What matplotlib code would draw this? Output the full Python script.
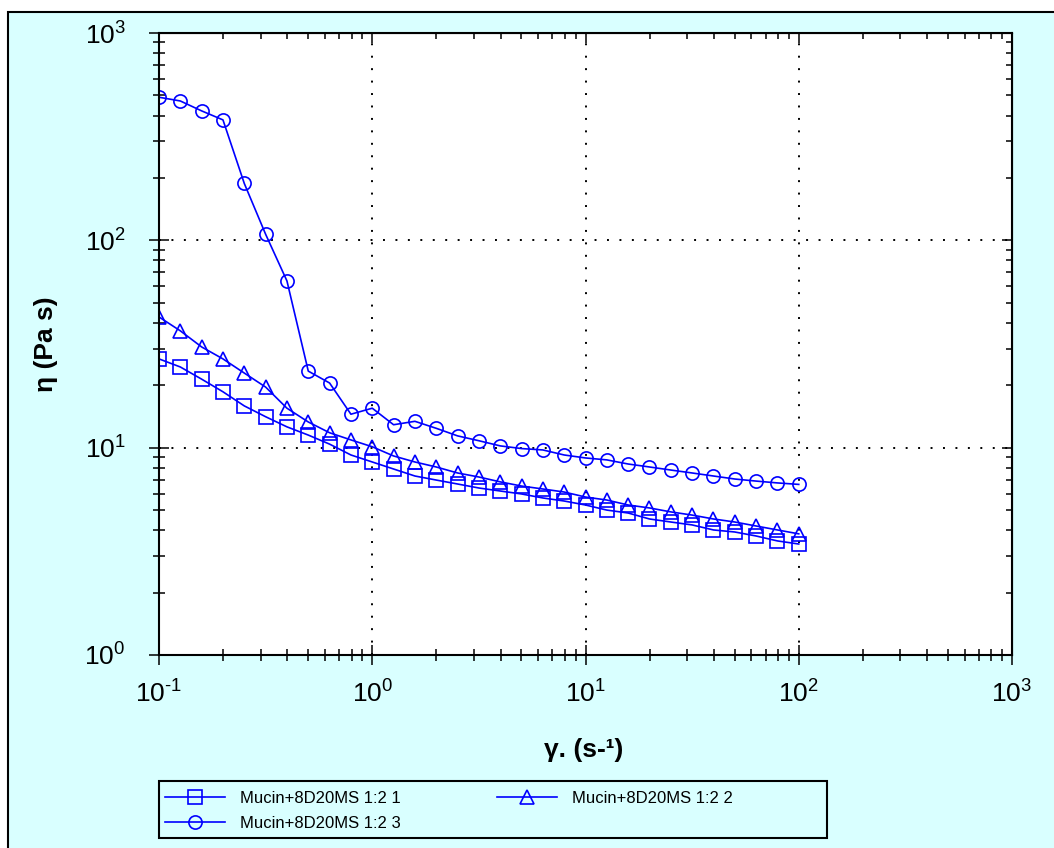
import matplotlib
matplotlib.use('Agg')
import matplotlib.pyplot as plt
from matplotlib.patches import Rectangle
from matplotlib.ticker import LogLocator, FuncFormatter
import numpy as np

plt.rcParams['font.family'] = ['Liberation Sans', 'DejaVu Sans']
plt.rcParams['mathtext.fontset'] = 'custom'
plt.rcParams['mathtext.rm'] = 'Liberation Sans'
plt.rcParams['mathtext.default'] = 'regular'

# shear rate (1/s)
shear = [0.1, 0.1259, 0.1585, 0.1995, 0.2512, 0.3162, 0.3981, 0.5012, 0.631, 0.7943,
         1.0, 1.259, 1.585, 1.995, 2.512, 3.162, 3.981, 5.012, 6.31, 7.943,
         10.0, 12.59, 15.85, 19.95, 25.12, 31.62, 39.81, 50.12, 63.1, 79.43, 100.0]

# viscosity (Pa s)
eta_1 = [26.8, 24.5, 21.4, 18.6, 15.9, 14.1, 12.6, 11.5, 10.4, 9.22,
         8.53, 7.89, 7.30, 6.98, 6.68, 6.39, 6.18, 5.98, 5.72, 5.53,
         5.29, 5.00, 4.84, 4.53, 4.38, 4.24, 4.01, 3.92, 3.75, 3.55, 3.43]
eta_2 = [42.7, 36.6, 30.6, 26.8, 22.9, 19.6, 15.5, 13.3, 11.8, 10.9,
         10.1, 9.12, 8.53, 8.07, 7.55, 7.22, 6.84, 6.53, 6.32, 6.11,
         5.78, 5.59, 5.29, 5.12, 4.90, 4.73, 4.53, 4.38, 4.19, 4.01, 3.84]
eta_3 = [490, 470, 421, 381, 188, 107, 63.7, 23.4, 20.5, 14.5,
         15.5, 12.9, 13.4, 12.4, 11.4, 10.8, 10.2, 9.9, 9.75, 9.22,
         8.92, 8.73, 8.34, 8.07, 7.80, 7.55, 7.30, 7.06, 6.90, 6.76, 6.65]

labels = ['Mucin+8D20MS 1:2 1', 'Mucin+8D20MS 1:2 2', 'Mucin+8D20MS 1:2 3']


def decade(v, pos):
    # 10^n with a plain hyphen for negative powers
    n = int(round(np.log10(v)))
    return '$10^{%s}$' % str(n).replace('-', '\u2010')


bg = '#d9ffff'
fig = plt.figure(figsize=(10.54, 8.48), dpi=100, facecolor='white')
fig.patches.append(Rectangle((8 / 1054, -0.2), 1.2, 1.2 - 12 / 848,
                             transform=fig.transFigure, facecolor=bg,
                             edgecolor='black', lw=1.5, zorder=-1))

ax = fig.add_axes([159 / 1054, 1 - 655 / 848, 853 / 1054, 622 / 848])
ax.set_facecolor('white')

style = dict(color='blue', lw=1.2, mfc='none', mew=1.2, ms=9.5)
l1, = ax.plot(shear, eta_1, marker='s', label=labels[0], **style)
l2, = ax.plot(shear, eta_2, marker='^', label=labels[1], **style)
l3, = ax.plot(shear, eta_3, marker='o', label=labels[2], **style)

ax.set_xscale('log')
ax.set_yscale('log')
ax.set_xlim(0.1, 1000)
ax.set_ylim(1, 1000)
ax.xaxis.set_minor_locator(LogLocator(subs=range(2, 10)))
ax.yaxis.set_minor_locator(LogLocator(subs=range(2, 10)))
ax.xaxis.set_major_formatter(FuncFormatter(decade))
ax.yaxis.set_major_formatter(FuncFormatter(decade))

ax.grid(True, which='major', color='black', lw=1.4, linestyle=(0, (1, 5.4)))

for s in ax.spines.values():
    s.set_linewidth(1.5)

ax.tick_params(which='major', direction='inout', length=14, width=1.1,
               labelsize=19, top=False, right=False)
ax.tick_params(which='minor', direction='inout', length=8, width=1.1,
               top=False, right=False)
ax.tick_params(axis='y', which='major', pad=17)
ax.tick_params(axis='x', which='major', pad=11)

# inward ticks on the top and right edges
top = ax.secondary_xaxis('top')
top.xaxis.set_minor_locator(LogLocator(subs=range(2, 10)))
top.tick_params(which='major', direction='in', length=7, width=1.1, labeltop=False)
top.tick_params(which='minor', direction='in', length=4, width=1.1)
right = ax.secondary_yaxis('right')
right.yaxis.set_minor_locator(LogLocator(subs=range(2, 10)))
right.tick_params(which='major', direction='in', length=7, width=1.1, labelright=False)
right.tick_params(which='minor', direction='in', length=4, width=1.1)

ax.set_ylabel('η (Pa s)', fontsize=19, fontweight='bold')
ax.set_xlabel('γ. (s-¹)', fontsize=19, fontweight='bold')
ax.yaxis.set_label_coords(-0.118, 0.5)
ax.xaxis.set_label_coords(0.498, -0.133)

# legend entries in row order, with a fixed-size box around them
leg = ax.legend([l1, l3, l2], [labels[0], labels[2], labels[1]], ncol=2,
                loc='upper left', bbox_to_anchor=(-0.005, -0.2026),
                borderaxespad=0, borderpad=0.6, fontsize=12, handlelength=3.6,
                handletextpad=0.9, labelspacing=0.6, columnspacing=5.8,
                frameon=False)
ax.add_patch(Rectangle((0.0, -0.294), 0.783, 0.0915, transform=ax.transAxes,
                       fill=False, edgecolor='black', lw=1.5, clip_on=False))

fig.savefig('out.png', dpi=100, facecolor=fig.get_facecolor())
